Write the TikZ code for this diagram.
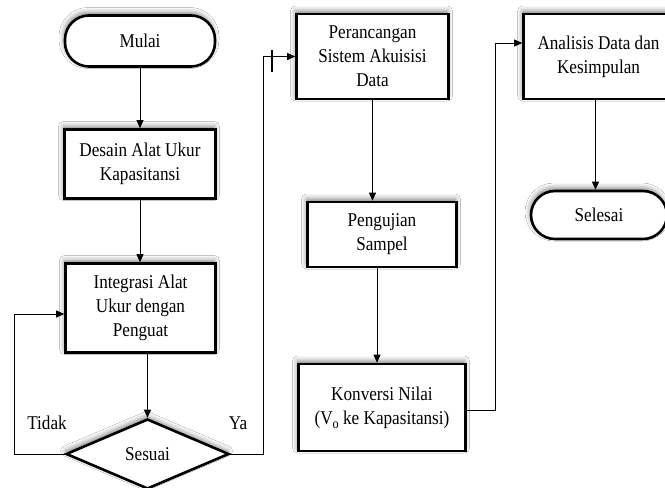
\documentclass[tikz,border=0pt]{standalone}
\usepackage{fontspec}
\setmainfont{Liberation Serif}[FakeStretch=0.88]
\usetikzlibrary{shapes.geometric,arrows.meta,shadows.blur}
\newcommand{\lowsub}[1]{\raisebox{-4pt}{\fontsize{14}{14}\selectfont #1}}
\begin{document}
\begin{tikzpicture}[x=1pt,y=-1pt,
  txt/.style={font=\fontsize{19.5}{24.2}\selectfont, align=center},
  boxshadow/.style={blur shadow={shadow xshift=-1pt, shadow yshift=3pt, shadow blur radius=5pt, shadow opacity=50}},
  procbox/.style={txt, draw, line width=2.6pt, fill=white, inner sep=0pt, boxshadow},
  termbox/.style={procbox, rounded corners=24pt},
  decbox/.style={txt, draw, line width=2.6pt, fill=white, diamond, shape aspect=2.3, inner sep=0pt, boxshadow},
  conn/.style={line width=0.8pt},
  arr/.style={conn, -{Triangle[length=8pt,width=7pt]}},
  tick/.style={line width=2.4pt}]
\useasboundingbox (0,0) rectangle (665,488);
\clip (0,0) rectangle (665,488);
\fill[white] (0,0) rectangle (665,488);

\node[termbox, minimum width=150pt, minimum height=51pt] (mulai) at (140,41) {Mulai};
\node[procbox, minimum width=151pt, minimum height=69pt] (desain) at (140,164) {Desain Alat Ukur\\Kapasitansi};
\node[procbox, minimum width=150pt, minimum height=89pt] (integrasi) at (140.5,308) {Integrasi Alat\\Ukur dengan\\Penguat};
\node[decbox, minimum width=163pt, minimum height=70pt] (sesuai) at (147.5,454) {Sesuai};

\node[procbox, minimum width=152pt, minimum height=85pt] (peranc) at (372.5,56.5) {Perancangan\\Sistem Akuisisi\\Data};
\node[procbox, minimum width=149pt, minimum height=65pt] (uji) at (382,234.5) {Pengujian\\Sampel};
\node[procbox, minimum width=167pt, minimum height=87pt] (konv) at (382,407.5) {Konversi Nilai\\(V\lowsub{o} ke Kapasitansi)};

\node[procbox, minimum width=150pt, minimum height=85pt] (anal) at (598.5,56.5) {Analisis Data dan\\Kesimpulan};
\node[termbox, minimum width=136pt, minimum height=48pt] (selesai) at (599,215) {Selesai};

\node[txt] (tidak) at (47,423) {Tidak};
\node[txt] (ya) at (238,423) {Ya};

\draw[arr] (mulai.south) -- (desain.north);
\draw[arr] (desain.south) -- (desain.south |- integrasi.north);
\draw[arr] (sesuai.north |- integrasi.south) -- (sesuai.north);

\coordinate (tl) at (14,314);
\draw[arr] (sesuai.west) -| (tl) -- (integrasi.west |- tl);

\coordinate (yr) at (263,454);
\draw[arr] (sesuai.east) -- (yr) |- (peranc.west);
\coordinate (tk1) at (272,50);
\coordinate (tk2) at (272,72);
\draw[tick] (tk1) -- (tk2);

\draw[arr] (peranc.south) -- (peranc.south |- uji.north);
\draw[arr] ([xshift=-5pt]uji.south) -- ([xshift=-5pt]uji.south |- konv.north);

\coordinate (kr) at (495,410);
\coordinate (ar) at (495,43);
\draw[arr] (konv.east |- kr) -- (kr) -- (ar) -- (anal.west |- ar);
\draw[arr] ([xshift=-3pt]anal.south) -- ([xshift=-3pt]anal.south |- selesai.north);
\end{tikzpicture}
\end{document}
